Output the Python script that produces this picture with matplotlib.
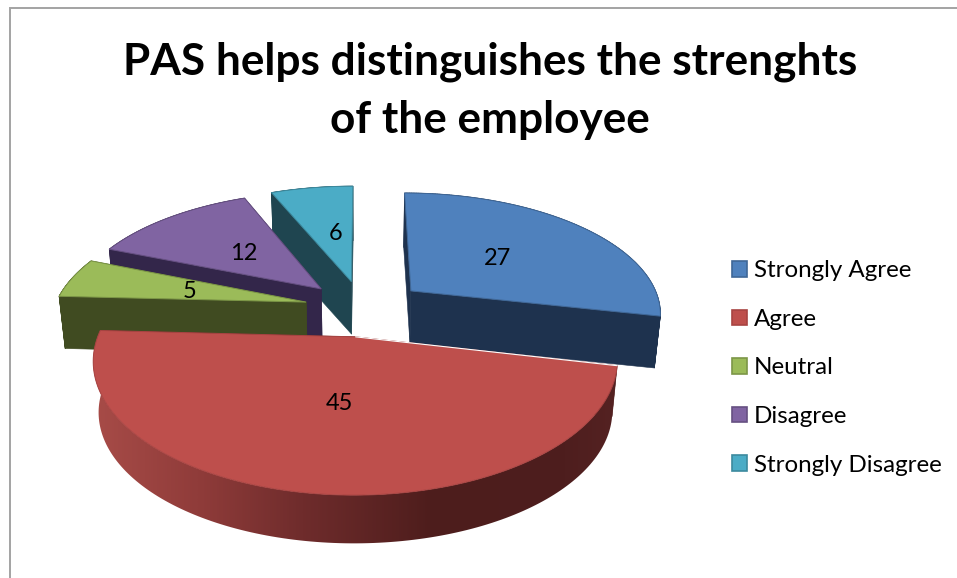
import numpy as np
import matplotlib
matplotlib.use("Agg")
import matplotlib.pyplot as plt
from matplotlib.collections import PolyCollection
from matplotlib.colors import LinearSegmentedColormap
from matplotlib.patches import Patch, Polygon

# Survey responses
categories = ["Strongly Agree", "Agree", "Neutral", "Disagree", "Strongly Disagree"]
responses = [27, 45, 5, 12, 6]
title_lines = ["PAS helps distinguishes the strenghts", "of the employee"]

top_colors = ["#4F81BD", "#BE4F4C", "#9BBB59", "#8064A2", "#4BACC6"]
wall_colors = ["#1E324E", "#4E1E1E", "#404B21", "#33264A", "#1F4550"]
edge_colors = ["#3F6797", "#A84442", "#7C9647", "#665082", "#3C8A9E"]

# Projection of the tilted pie onto the canvas (pixel units)
CX, CY = 362.0, 308.0
RX, RY = 252.0, 120.0
PERSPECTIVE = 0.171
EXPLODE = 0.233
WALL = 52.0
WALL_SHRINK = 0.98

# Small per-slice refinements of the projection and of the value labels
slice_dx = [4.5, 1.5, 1.0, 0.0, 0.5]
slice_rx = [0.995, 0.983, 1.0, 1.0, 1.0]
label_nudge = [(-2, 2), (3, -4), (2, 2), (3, 2), (6, 2)]

plt.rcParams["font.family"] = ["Lato", "DejaVu Sans"]
fig = plt.figure(figsize=(9.57, 5.78), dpi=100, facecolor="white")
ax = fig.add_axes([0, 0, 1, 1])


def project(u, v, index):
    d = 1 + PERSPECTIVE * v
    return (CX + slice_dx[index] + RX * slice_rx[index] * u / d,
            CY - RY * v / d)


def lower(x, y):
    return CX + (x - CX) * WALL_SHRINK, CY + (y - CY) * WALL_SHRINK + WALL


def wedge_point(theta, radius, mid, index):
    u = EXPLODE * np.sin(mid) + radius * np.sin(theta)
    v = EXPLODE * np.cos(mid) + radius * np.cos(theta)
    return project(u, v, index)


red_wall_cmap = LinearSegmentedColormap.from_list(
    "red_wall",
    [(0.0, "#A84C48"), (0.2, "#903C3A"), (0.4, "#6F2C2C"),
     (0.65, "#4D1D1C"), (0.9, "#4E1E1E"), (1.0, "#552222")],
)

values = np.array(responses, dtype=float)
bounds = np.concatenate([[0], np.cumsum(values)]) / values.sum() * 2 * np.pi

# Back slices first, the large front slice last
for layer, i in enumerate([4, 3, 2, 0, 1]):
    z = 2 + layer
    start, end = bounds[i], bounds[i + 1]
    mid = (start + end) / 2
    thetas = np.linspace(start, end, 160)
    xs, ys = wedge_point(thetas, 1.0, mid, i)
    tx, ty = wedge_point(mid, 0.0, mid, i)
    bx, by = lower(xs, ys)
    btx, bty = lower(tx, ty)

    # Cut faces
    for j in [0, -1]:
        ax.add_patch(Polygon([(tx, ty), (xs[j], ys[j]), (bx[j], by[j]), (btx, bty)],
                             closed=True, fc=wall_colors[i], ec=wall_colors[i], lw=0.4, zorder=z))

    if i == 1:
        # The front wall carries a left-to-right shading
        wall = Polygon(np.column_stack([np.r_[xs, bx[::-1]], np.r_[ys, by[::-1]]]),
                       closed=True, fc="none", ec="none", zorder=z)
        ax.add_patch(wall)
        shade = ax.imshow(np.linspace(0, 1, 512)[None, :], cmap=red_wall_cmap, aspect="auto",
                          extent=(xs.min() - 2, xs.max() + 2, by.max() + 2, ys.min() - 2),
                          interpolation="bilinear", zorder=z + 0.1)
        shade.set_clip_path(wall)
    else:
        quads = [[(xs[k], ys[k]), (xs[k + 1], ys[k + 1]), (bx[k + 1], by[k + 1]), (bx[k], by[k])]
                 for k in range(len(xs) - 1)]
        ax.add_collection(PolyCollection(quads, facecolors=wall_colors[i], edgecolors=wall_colors[i],
                                         linewidths=0.5, zorder=z))

    # Top surface
    outline = np.column_stack([np.r_[tx, xs], np.r_[ty, ys]])
    ax.add_patch(Polygon(outline, closed=True, fc=top_colors[i], ec=edge_colors[i], lw=0.7, zorder=z + 0.2))

    if i == 1:
        ax.plot([tx, xs[0]], [ty, ys[0]], color="white", lw=0.8, solid_capstyle="round", zorder=z + 0.3)

    lx, ly = wedge_point(mid, 0.5, mid, i)
    ax.text(lx + label_nudge[i][0], ly + label_nudge[i][1], str(responses[i]), fontsize=17,
            color="black", ha="center", va="center", zorder=20)

ax.set_xlim(0, 957)
ax.set_ylim(578, 0)
ax.axis("off")

# Frame of the chart area
ax.plot([10, 10, 957], [578, 7.5, 7.5], color="#A3A3A3", lw=1.4, solid_joinstyle="miter")

ax.text(490, 61.5, title_lines[0], fontsize=31.8, fontweight="bold", ha="center", va="center")
ax.text(490, 119.5, title_lines[1], fontsize=31.8, fontweight="bold", ha="center", va="center")

handles = [Patch(facecolor=c, edgecolor=e, linewidth=1.2, label=name)
           for c, e, name in zip(top_colors, edge_colors, categories)]
ax.legend(handles=handles, loc="center left", bbox_to_anchor=(732 / 957, 1 - 368 / 578),
          frameon=False, fontsize=17.4, handlelength=0.62, handleheight=0.62,
          handletextpad=0.29, labelspacing=1.144, borderpad=0, borderaxespad=0)

fig.savefig("out.png", dpi=100)
